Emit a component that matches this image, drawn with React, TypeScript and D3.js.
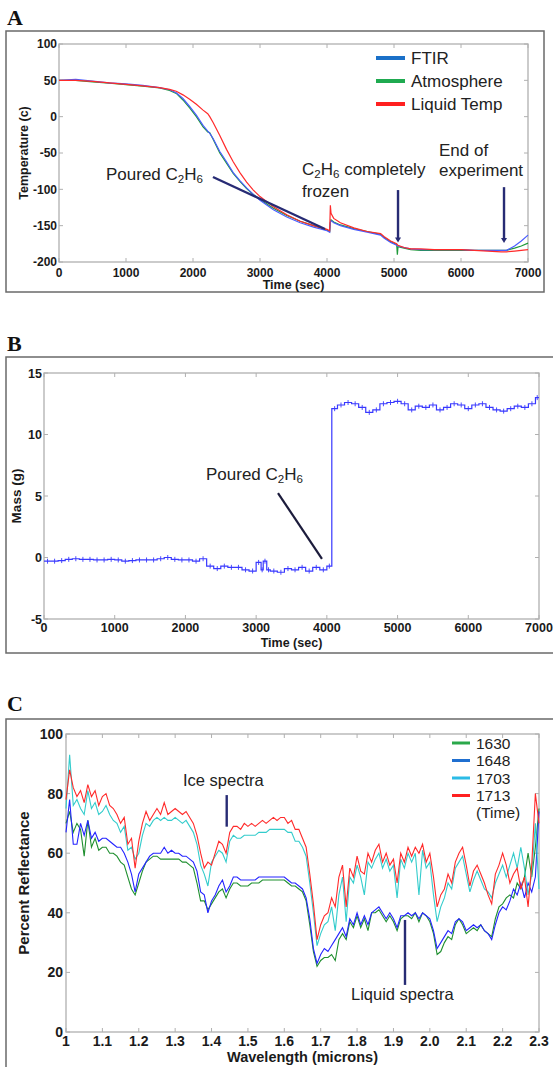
import React from 'react';
import * as d3 from 'd3';

const FONT = '"Liberation Sans", Arial, Helvetica, sans-serif';
const SERIF = '"Liberation Serif", "Times New Roman", serif';

// ---------- Panel A data ----------
const timeA = [0, 250, 500, 750, 1000, 1250, 1500, 1650, 1750, 1850, 1950, 2050, 2150, 2220, 2250, 2300, 2400, 2500, 2600, 2700, 2800, 2900, 3000, 3200, 3400, 3600, 3800, 4000, 4040, 4050, 4060, 4100, 4200, 4400, 4600, 4800, 4850, 4950, 5040, 5050, 5060, 5150, 5250, 5400, 5600, 5800, 6000, 6200, 6400, 6600, 6680, 6800, 6900, 7000];
const ftir = [50, 51.5, 49, 46.5, 45, 43, 40, 37, 33, 25, 14, 2, -12, -20, -23, -30, -48, -62, -77, -88, -98, -107, -115, -128, -138, -146, -152, -157, -159, -145, -143, -146, -150, -155, -159, -163, -167, -173, -177, -178, -178, -180, -182, -183, -183, -183, -183, -184, -184, -184, -184, -178, -171, -163];
const atmosphere = [50, 50, 48, 46, 44, 42, 39.5, 36, 32, 23, 12, 0, -14, -21, -22, -31, -50, -64, -78, -89, -99, -107, -114, -126, -136, -144, -150, -156, -158, -146, -142, -145, -149, -154, -158, -162, -166, -172, -176, -190, -179, -181, -183, -184, -184, -184, -184, -184, -184, -184, -184, -181, -178, -174];
const liquidTemp = [50, 50, 48.5, 46.5, 44.5, 42.5, 40, 37.5, 35, 30, 24, 17, 9, 4, 0, -8, -26, -45, -62, -77, -90, -101, -110, -124, -135, -144, -150, -155, -157, -122, -133, -140, -146, -153, -158, -161, -165, -171, -175, -176, -177, -180, -182, -182, -183, -183, -183, -184, -185, -186, -186, -185, -184, -183];
const tempTicks = [100, 50, 0, -50, -100, -150, -200];
const timeTicks = [0, 1000, 2000, 3000, 4000, 5000, 6000, 7000];
const legendA = ['FTIR', 'Atmosphere', 'Liquid Temp'];

// ---------- Panel B data ----------
const timeB = [0, 100, 200, 300, 400, 500, 600, 700, 800, 900, 1000, 1100, 1200, 1300, 1400, 1500, 1600, 1700, 1800, 1900, 2000, 2100, 2200, 2300, 2400, 2500, 2600, 2700, 2800, 2900, 3000, 3070, 3100, 3150, 3200, 3300, 3400, 3500, 3600, 3700, 3800, 3900, 4000, 4070, 4150, 4250, 4350, 4450, 4550, 4650, 4750, 4850, 4950, 5050, 5150, 5250, 5350, 5450, 5550, 5650, 5750, 5850, 5950, 6050, 6150, 6250, 6350, 6450, 6550, 6650, 6750, 6850, 6950, 7000];
const mass = [-0.3, -0.3, -0.25, -0.15, -0.1, -0.15, -0.15, -0.2, -0.2, -0.15, -0.2, -0.3, -0.25, -0.2, -0.2, -0.2, -0.1, 0.0, -0.15, -0.2, -0.2, -0.3, -0.1, -0.7, -0.9, -0.7, -0.8, -0.8, -1.0, -1.1, -0.4, -1.0, -0.3, -1.0, -1.1, -1.2, -0.9, -1.0, -0.8, -1.1, -0.8, -1.0, -0.7, 12.1, 12.4, 12.6, 12.5, 12.2, 11.8, 12.0, 12.5, 12.6, 12.7, 12.5, 12.0, 12.3, 12.2, 12.4, 12.0, 12.2, 12.5, 12.4, 12.1, 12.4, 12.5, 12.2, 12.0, 11.9, 12.1, 12.3, 12.2, 12.5, 13.0, 13.0];
const massTicks = [15, 10, 5, 0, -5];

// ---------- Panel C data ----------
const wavelength = d3.range(131).map((i) => +(1 + i / 100).toFixed(2));
const s1713 = [78, 88, 82, 79, 81, 77, 83, 79, 81, 76, 79, 80, 76, 75, 73, 70, 72, 63, 65, 55, 64, 70, 74, 71, 73, 75, 73, 77, 73, 74, 75, 74, 73, 74, 72, 70, 66, 60, 55, 57, 56, 60, 64, 63, 60, 67, 69, 69, 68, 70, 69, 70, 69, 70, 71, 70, 71, 72, 71, 72, 72, 70, 71, 68, 68, 65, 62, 53, 43, 31, 36, 39, 40, 45, 42, 52, 56, 42, 55, 52, 59, 54, 53, 60, 57, 61, 63, 57, 60, 56, 58, 50, 60, 57, 62, 59, 62, 60, 63, 57, 60, 52, 42, 46, 48, 53, 50, 57, 60, 62, 56, 49, 54, 56, 53, 50, 46, 43, 53, 56, 60, 56, 50, 53, 55, 48, 52, 42, 56, 80, 70];
const s1703 = [75, 93, 76, 78, 75, 73, 81, 75, 77, 73, 74, 76, 73, 71, 70, 67, 69, 61, 62, 58, 60, 66, 70, 69, 71, 72, 71, 72, 71, 71, 72, 71, 70, 71, 69, 67, 63, 56, 53, 49, 57, 59, 61, 60, 57, 64, 66, 65, 65, 66, 66, 66, 66, 67, 67, 67, 68, 68, 68, 68, 68, 67, 67, 64, 64, 62, 59, 50, 40, 29, 33, 36, 37, 42, 34, 46, 52, 37, 52, 50, 56, 52, 46, 57, 55, 58, 60, 55, 58, 54, 56, 45, 58, 55, 60, 57, 60, 46, 61, 55, 57, 46, 37, 42, 45, 50, 48, 55, 57, 59, 53, 47, 51, 54, 51, 48, 47, 45, 50, 53, 56, 52, 56, 60, 55, 62, 55, 46, 53, 70, 48];
const s1648 = [67, 78, 63, 63, 70, 66, 71, 65, 67, 64, 65, 65, 64, 63, 62, 62, 60, 57, 53, 47, 53, 55, 57, 59, 60, 60, 60, 62, 60, 61, 60, 60, 59, 59, 58, 57, 54, 47, 46, 40, 44, 46, 49, 51, 47, 49, 52, 52, 51, 51, 51, 51, 51, 52, 52, 52, 52, 52, 52, 52, 52, 51, 50, 50, 49, 48, 45, 38, 28, 23, 26, 28, 27, 29, 31, 33, 35, 32, 38, 36, 40, 36, 39, 36, 40, 41, 42, 40, 38, 40, 38, 35, 39, 39, 40, 39, 40, 38, 40, 39, 38, 34, 28, 30, 32, 34, 33, 37, 38, 37, 34, 35, 36, 35, 36, 34, 33, 31, 36, 40, 42, 41, 44, 48, 46, 50, 45, 50, 47, 52, 74];
const s1630 = [70, 74, 67, 70, 68, 59, 71, 62, 65, 61, 62, 62, 60, 60, 59, 57, 56, 52, 48, 46, 50, 54, 57, 58, 59, 59, 58, 58, 58, 58, 58, 58, 57, 57, 56, 55, 50, 44, 44, 41, 43, 45, 47, 48, 45, 48, 50, 50, 49, 49, 49, 50, 50, 50, 51, 51, 51, 51, 51, 51, 51, 50, 49, 49, 48, 47, 44, 36, 27, 22, 24, 25, 25, 26, 24, 31, 33, 31, 37, 35, 39, 35, 38, 34, 40, 40, 41, 39, 37, 39, 37, 34, 38, 39, 39, 38, 40, 37, 40, 39, 37, 33, 26, 27, 30, 32, 31, 36, 38, 36, 33, 34, 35, 34, 36, 34, 33, 32, 38, 42, 43, 45, 46, 45, 50, 48, 52, 60, 52, 62, 75];
const reflTicks = [0, 20, 40, 60, 80, 100];
const wlTicks = [1, 1.1, 1.2, 1.3, 1.4, 1.5, 1.6, 1.7, 1.8, 1.9, 2.0, 2.1, 2.2, 2.3];
const wlTickLabels = ['1', '1.1', '1.2', '1.3', '1.4', '1.5', '1.6', '1.7', '1.8', '1.9', '2.0', '2.1', '2.2', '2.3'];
const legendC = ['1630', '1648', '1703', '1713'];

const NAVY = '#272b74';
const FRAME = '#b0b0b0';
const OUTER = '#6a6a6a';

type Scale = d3.ScaleLinear<number, number>;

function Axes(props: {
  x: Scale; y: Scale; xTicks: number[]; xLabels: string[]; yTicks: number[];
  fs: number; xDy: number; yDx: number;
}) {
  const { x, y, xTicks, xLabels, yTicks, fs, xDy, yDx } = props;
  const [x0, x1] = x.range();
  const [yb, yt] = y.range();
  const tl = 4;
  return (
    <g>
      <rect x={x0} y={yt} width={x1 - x0} height={yb - yt} fill="none" stroke={FRAME} strokeWidth={1.3} />
      {xTicks.map((t, i) => (
        <g key={'xt' + i}>
          <line x1={x(t)} x2={x(t)} y1={yb} y2={yb - tl} stroke={FRAME} strokeWidth={1} />
          <line x1={x(t)} x2={x(t)} y1={yt} y2={yt + tl} stroke={FRAME} strokeWidth={1} />
          <text x={x(t)} y={yb + xDy} textAnchor="middle" fontFamily={FONT} fontWeight="bold" fontSize={fs} fill="#1a1a1a">{xLabels[i]}</text>
        </g>
      ))}
      {yTicks.map((t, i) => (
        <g key={'yt' + i}>
          <line x1={x0} x2={x0 + tl} y1={y(t)} y2={y(t)} stroke={FRAME} strokeWidth={1} />
          <line x1={x1} x2={x1 - tl} y1={y(t)} y2={y(t)} stroke={FRAME} strokeWidth={1} />
          <text x={x0 - yDx} y={y(t)} dy="0.36em" textAnchor="end" fontFamily={FONT} fontWeight="bold" fontSize={fs} fill="#1a1a1a">{String(t)}</text>
        </g>
      ))}
    </g>
  );
}

function Chem(props: { x: number; y: number; fs: number; pre?: string; post?: string }) {
  const { x, y, fs, pre = '', post = '' } = props;
  const sub = fs * 0.68;
  const d = fs * 0.2;
  return (
    <text x={x} y={y} fontFamily={FONT} fontSize={fs} fill="#222">
      {pre}C<tspan dy={d} fontSize={sub}>2</tspan><tspan dy={-d}>H</tspan><tspan dy={d} fontSize={sub}>6</tspan><tspan dy={-d}>{post}</tspan>
    </text>
  );
}

function Arrow(props: { x: number; y1: number; y2: number }) {
  const { x, y1, y2 } = props;
  return (
    <g>
      <line x1={x} x2={x} y1={y1} y2={y2 - 3} stroke={NAVY} strokeWidth={2.4} />
      <path d={`M${x - 3},${y2 - 5} L${x + 3},${y2 - 5} L${x},${y2} Z`} fill={NAVY} />
    </g>
  );
}

export default function App() {
  // Panel A scales
  const xA = d3.scaleLinear().domain([0, 7000]).range([59, 528]);
  const yA = d3.scaleLinear().domain([-200, 100]).range([262, 44]);
  const lineA = (vals: number[]) =>
    d3.line<number>().x((_, i) => xA(timeA[i])).y((v) => yA(v))(vals) || '';

  // Panel B scales
  const xB = d3.scaleLinear().domain([0, 7000]).range([44, 539]);
  const yB = d3.scaleLinear().domain([-5, 15]).range([619, 373]);
  const stepB = d3.line<number>().curve(d3.curveStepAfter).x((_, i) => xB(timeB[i])).y((v) => yB(v))(mass) || '';

  // Panel C scales
  const xC = d3.scaleLinear().domain([1, 2.3]).range([66, 539]);
  const yC = d3.scaleLinear().domain([0, 100]).range([1032, 734]);
  const lineC = (vals: number[]) =>
    d3.line<number>().x((_, i) => xC(wavelength[i])).y((v) => yC(v))(vals) || '';

  const aColors = ['#4a5cff', '#1f9a3a', '#ff2a2a'];
  const aLegendColors = ['#1a70c8', '#1faa50', '#ff2020'];
  const aSeries = [ftir, atmosphere, liquidTemp];

  const cColors = ['#1f8f2f', '#2424ff', '#33cccc', '#ff2a2a'];
  const cLegendColors = ['#2aa84a', '#1f6fd0', '#2bbbe6', '#ff2020'];
  const cSeries = [s1630, s1648, s1703, s1713];

  return (
    <svg width={553} height={1067} style={{ position: 'absolute', left: 0, top: 0, background: '#fff' }}>
      <rect x={0} y={0} width={553} height={1067} fill="#fff" />

      {/* ---------------- Panel A ---------------- */}
      <text x={7} y={25} fontFamily={SERIF} fontWeight="bold" fontSize={22} fill="#111">A</text>
      <rect x={6} y={31} width={538} height={261} fill="none" stroke={OUTER} strokeWidth={1.5} />
      <Axes x={xA} y={yA} xTicks={timeTicks} xLabels={timeTicks.map(String)} yTicks={tempTicks} fs={12} xDy={15} yDx={2} />
      {[1, 0, 2].map((k) => (
        <path key={'a' + k} d={lineA(aSeries[k])} fill="none" stroke={aColors[k]} strokeWidth={1.2} />
      ))}
      {legendA.map((name, i) => (
        <g key={'la' + i}>
          <line x1={376} x2={405} y1={58 + i * 23} y2={58 + i * 23} stroke={aLegendColors[i]} strokeWidth={4} />
          <text x={411} y={58 + i * 23 + 6} fontFamily={FONT} fontSize={17} fill="#222">{name}</text>
        </g>
      ))}
      <Chem x={106} y={180} fs={17} pre="Poured " />
      <line x1={xA(2298)} y1={yA(-83)} x2={xA(3970)} y2={yA(-154.6)} stroke={NAVY} strokeWidth={2.4} />
      <Chem x={302} y={175} fs={17} post=" completely" />
      <text x={302} y={197} fontFamily={FONT} fontSize={17} fill="#222">frozen</text>
      <Arrow x={xA(5060)} y1={yA(-101)} y2={yA(-173)} />
      <text x={439} y={156} fontFamily={FONT} fontSize={17} fill="#222">End of</text>
      <text x={439} y={176} fontFamily={FONT} fontSize={17} fill="#222">experiment</text>
      <Arrow x={xA(6642)} y1={yA(-97)} y2={yA(-174)} />
      <text x={xA(3500)} y={289} textAnchor="middle" fontFamily={FONT} fontWeight="bold" fontSize={12.5} fill="#1a1a1a">Time (sec)</text>
      <text transform={`translate(28,${yA(-50)}) rotate(-90)`} textAnchor="middle" fontFamily={FONT} fontWeight="bold" fontSize={12.5} fill="#1a1a1a">Temperature (c)</text>

      {/* ---------------- Panel B ---------------- */}
      <text x={7} y={351} fontFamily={SERIF} fontWeight="bold" fontSize={22} fill="#111">B</text>
      <rect x={6} y={357} width={560} height={296} fill="none" stroke={OUTER} strokeWidth={1.5} />
      <Axes x={xB} y={yB} xTicks={timeTicks} xLabels={timeTicks.map(String)} yTicks={massTicks} fs={12.5} xDy={13} yDx={2} />
      <path d={stepB} fill="none" stroke="#3838ff" strokeWidth={1.2} />
      {mass.slice(0, -1).map((v, i) => (
        <line key={'mk' + i} x1={(xB(timeB[i]) + xB(timeB[i + 1])) / 2} x2={(xB(timeB[i]) + xB(timeB[i + 1])) / 2}
          y1={yB(v) - 2.5} y2={yB(v) + 2.5} stroke="#3838ff" strokeWidth={0.9} />
      ))}
      <Chem x={206} y={480} fs={17} pre="Poured " />
      <line x1={xB(3309)} y1={yB(5.24)} x2={xB(3931)} y2={yB(-0.12)} stroke="#1c1c3c" strokeWidth={2.2} />
      <text x={xB(3500)} y={647} textAnchor="middle" fontFamily={FONT} fontWeight="bold" fontSize={12.5} fill="#1a1a1a">Time (sec)</text>
      <text transform={`translate(21,${yB(5)}) rotate(-90)`} textAnchor="middle" fontFamily={FONT} fontWeight="bold" fontSize={13.5} fill="#1a1a1a">Mass (g)</text>

      {/* ---------------- Panel C ---------------- */}
      <text x={7} y={711} fontFamily={SERIF} fontWeight="bold" fontSize={22} fill="#111">C</text>
      <rect x={6} y={719} width={560} height={360} fill="none" stroke={OUTER} strokeWidth={1.5} />
      <Axes x={xC} y={yC} xTicks={wlTicks} xLabels={wlTickLabels} yTicks={reflTicks} fs={14} xDy={14} yDx={3} />
      {cSeries.map((s, k) => (
        <path key={'c' + k} d={lineC(s)} fill="none" stroke={cColors[k]} strokeWidth={1.1} />
      ))}
      {legendC.map((name, i) => (
        <g key={'lc' + i}>
          <line x1={452} x2={470} y1={743 + i * 17.5} y2={743 + i * 17.5} stroke={cLegendColors[i]} strokeWidth={3} />
          <text x={476} y={743 + i * 17.5 + 5.5} fontFamily={FONT} fontSize={15.5} fill="#222">{name}</text>
        </g>
      ))}
      <text x={476} y={818} fontFamily={FONT} fontSize={15.5} fill="#222">(Time)</text>
      <text x={183} y={786} fontFamily={FONT} fontSize={16.5} fill="#222">Ice spectra</text>
      <line x1={xC(1.4417)} x2={xC(1.4417)} y1={yC(79.5)} y2={yC(68.9)} stroke={NAVY} strokeWidth={2.4} />
      <text x={351} y={1000} fontFamily={FONT} fontSize={16.5} fill="#222">Liquid spectra</text>
      <line x1={xC(1.9317)} x2={xC(1.9317)} y1={yC(37.6)} y2={yC(15.8)} stroke={NAVY} strokeWidth={2.4} />
      <text x={xC(1.65)} y={1062} textAnchor="middle" fontFamily={FONT} fontWeight="bold" fontSize={14.5} fill="#1a1a1a">Wavelength (microns)</text>
      <text transform={`translate(29,${yC(50)}) rotate(-90)`} textAnchor="middle" fontFamily={FONT} fontWeight="bold" fontSize={15} fill="#1a1a1a">Percent Reflectance</text>
    </svg>
  );
}
